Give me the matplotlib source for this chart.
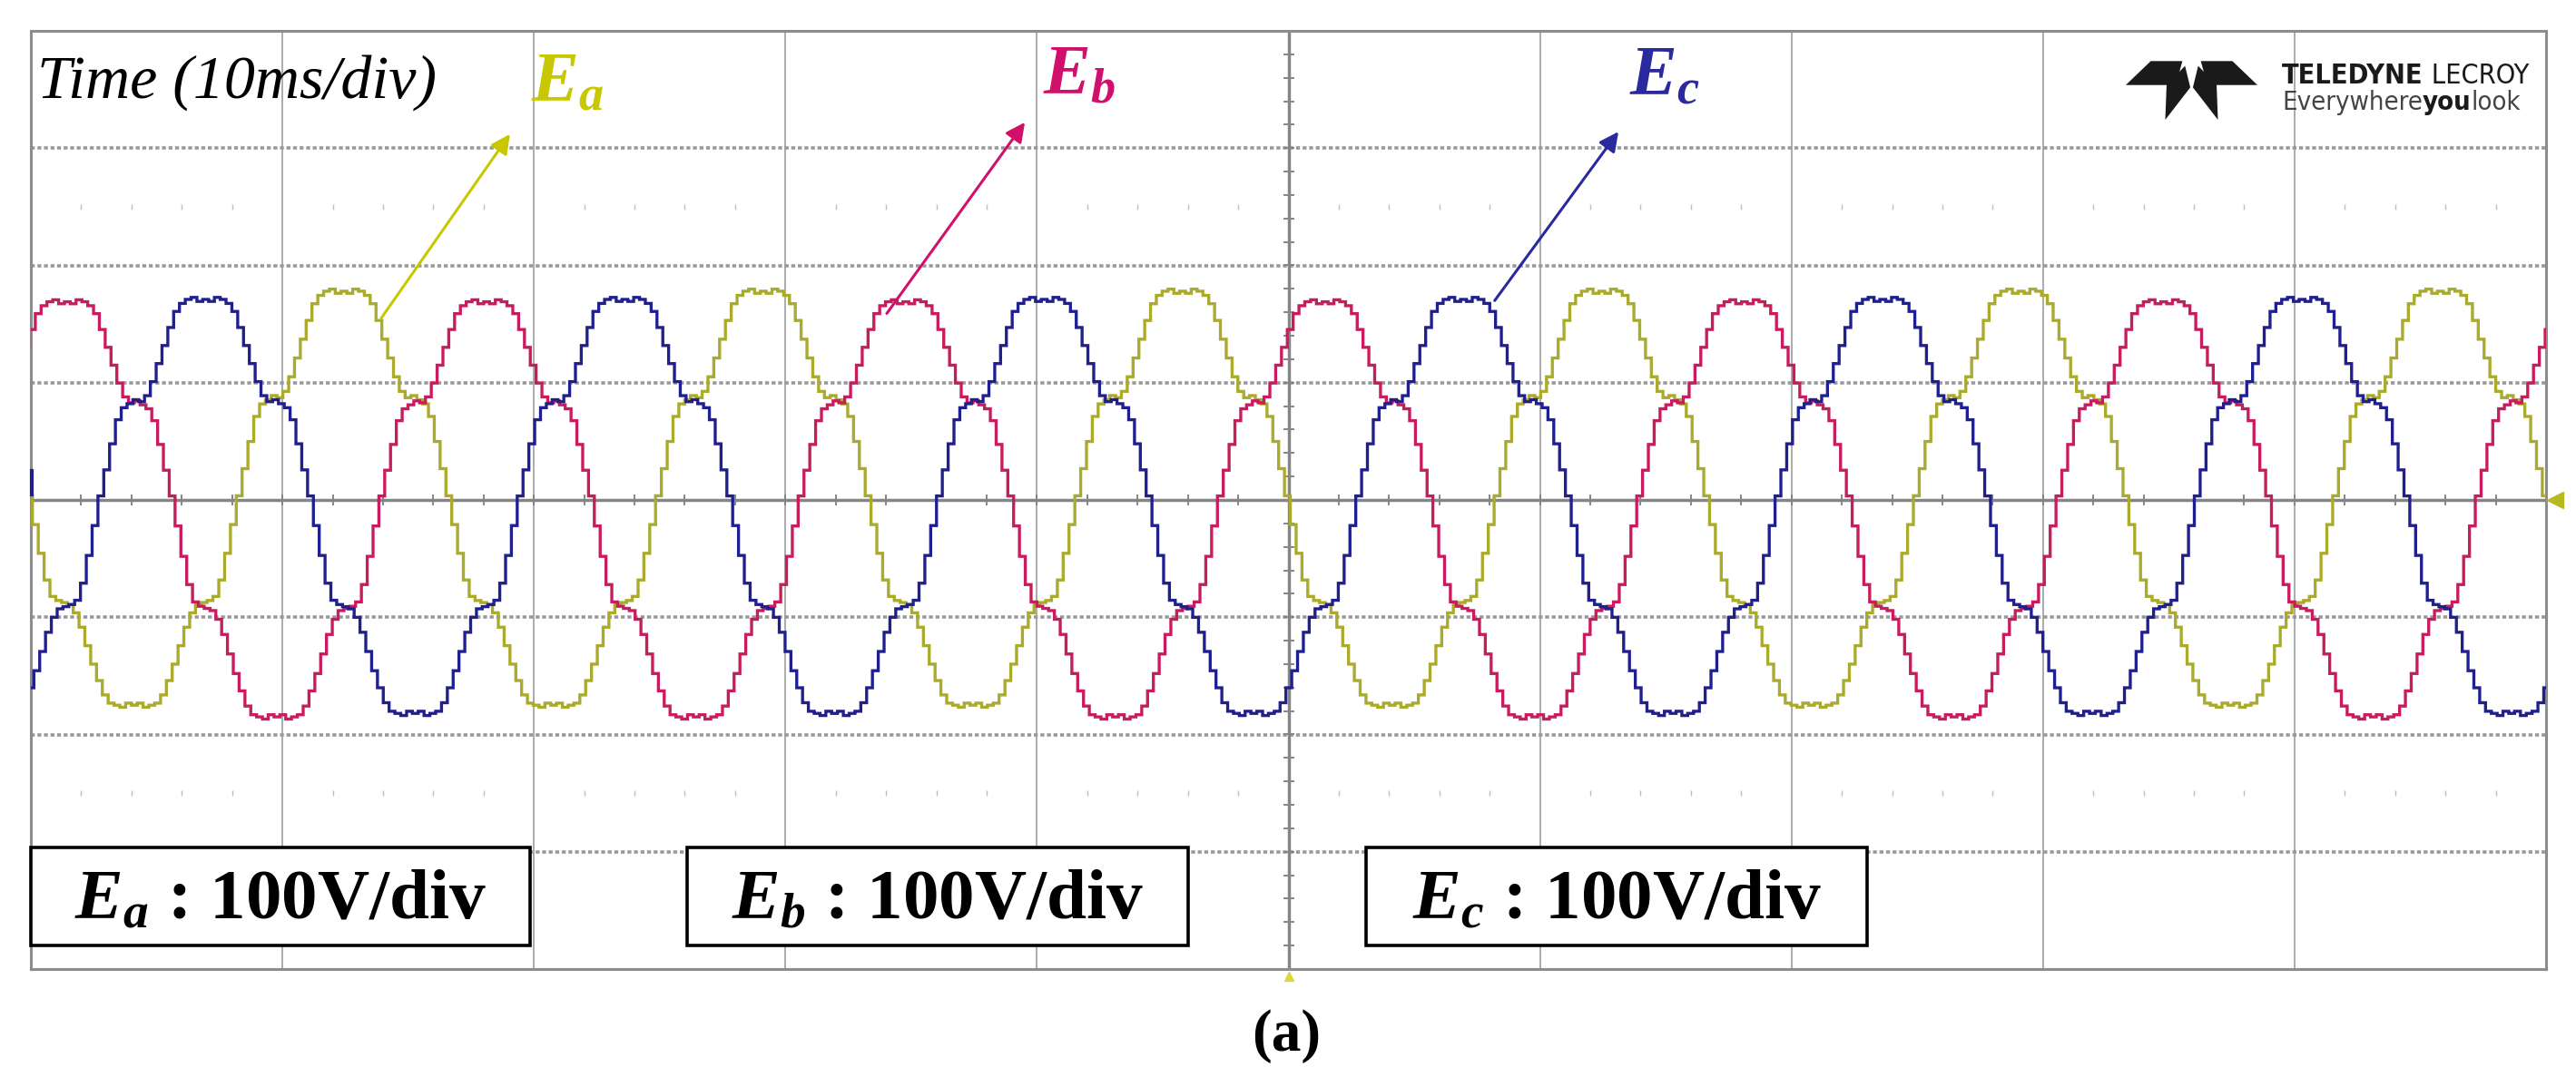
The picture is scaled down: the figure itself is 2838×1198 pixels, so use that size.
"""Three-phase staircase output voltages (Ea, Eb, Ec) as seen on the scope."""

import matplotlib
matplotlib.use("Agg")
import matplotlib.pyplot as plt
import numpy as np
from matplotlib.patches import Polygon, Rectangle

plt.rcParams["mathtext.fontset"] = "custom"
plt.rcParams["mathtext.it"] = "Liberation Serif:italic:bold"
plt.rcParams["mathtext.rm"] = "Liberation Serif:bold"
plt.rcParams["mathtext.bf"] = "Liberation Serif:bold"

# --- data (time in ms, voltage in divisions) -----------------------------
PERIOD_MS = 16.67
STEP_DEG = 5
# one period of the staircase, normalised, starting at the positive peak
SHAPE = [
    1.00, 0.99, 1.01, 1.00, 0.98, 0.94, 0.86, 0.77, 0.68, 0.59, 0.52, 0.49,
    0.50, 0.48, 0.46, 0.40, 0.28, 0.15, 0.02, -0.12, -0.26, -0.39, -0.47, -0.49,
    -0.50, -0.51, -0.55, -0.62, -0.71, -0.80, -0.88, -0.95, -0.99, -1.00, -1.01, -0.99,
    -1.00, -0.99, -1.01, -1.00, -0.99, -0.95, -0.88, -0.80, -0.71, -0.62, -0.55, -0.51,
    -0.50, -0.49, -0.47, -0.39, -0.26, -0.12, 0.02, 0.15, 0.28, 0.40, 0.46, 0.48,
    0.50, 0.49, 0.52, 0.59, 0.68, 0.77, 0.86, 0.94, 0.98, 1.00, 1.01, 0.99,
]
PHASES = ["Ea", "Eb", "Ec"]
PEAK_TIME_MS = [12.45, 1.45, 6.95]
POS_PEAK_DIV = [1.78, 1.69, 1.71]
NEG_PEAK_DIV = [1.75, 1.85, 1.82]
TRACE_COLORS = ["#aaaa2c", "#c81c5e", "#1f1f8f"]
LABEL_COLORS = ["#c8c800", "#d0106a", "#2a2a9e"]
SCALE_TEXT = ["100V/div", "100V/div", "100V/div"]

W, H = 2838, 1198
LEFT, RIGHT, TOP, BOTTOM = 34, 2805, 34, 1068


def fx(px):
    return px / W


def fy(py):
    return 1 - py / H


fig = plt.figure(figsize=(W / 100, H / 100), dpi=100)
ax = fig.add_axes([fx(LEFT), fy(BOTTOM), fx(RIGHT - LEFT), (BOTTOM - TOP) / H])
ax.set_xlim(0, 100)
ax.set_ylim(-4, 4)
ax.set_xticks([])
ax.set_yticks([])
for sp in ax.spines.values():
    sp.set_color("#8c8c8c")
    sp.set_linewidth(2.2)

# graticule
for x in range(10, 100, 10):
    if x != 50:
        ax.axvline(x, color="#949494", lw=1.1, zorder=1)
for y in (-3, -2, -1, 1, 2, 3):
    ax.axhline(y, color="#999999", lw=2.6, ls=(0, (1.2, 0.8)), zorder=1)
ax.axhline(0, color="#858585", lw=2.5, zorder=1)
ax.axvline(50, color="#858585", lw=2.5, zorder=1)
minor_x = np.arange(2, 100, 2)
minor_y = np.arange(-3.8, 4, 0.2)
ax.plot(minor_x, np.zeros_like(minor_x), ls="none", marker="|", ms=9, mew=1.4,
        color="#858585", zorder=1)
ax.plot(np.full_like(minor_y, 50), minor_y, ls="none", marker="_", ms=9, mew=1.4,
        color="#858585", zorder=1)
for y in (2.5, -2.5):
    ax.plot(minor_x[minor_x % 10 != 0], np.full(np.sum(minor_x % 10 != 0), y),
            ls="none", marker="|", ms=5, mew=1.0, color="#c0c0c0", zorder=1)

# traces
shape = np.array(SHAPE)
n_cyc = 9
for name, tp, pos, neg, col in zip(PHASES, PEAK_TIME_MS, POS_PEAK_DIV,
                                   NEG_PEAK_DIV, TRACE_COLORS):
    levels = np.where(shape > 0, shape * pos, shape * neg)
    t = tp - 2 * PERIOD_MS + np.arange(len(shape) * n_cyc) * PERIOD_MS * STEP_DEG / 360
    ax.plot(t, np.tile(levels, n_cyc), drawstyle="steps-mid", color=col, lw=2.4,
            zorder=3, solid_joinstyle="miter")

# scope markers
ax.plot([0.05, 0.05], [0.05, 0.25], color="#1f1f8f", lw=3, clip_on=False, zorder=4)
ax.plot([100.35], [0], marker="<", ms=13, color="#b8b820", clip_on=False, zorder=4)
ax.plot([50], [-4.06], marker="^", ms=7, color="#d8d840", clip_on=False, zorder=4)

# labels and arrows
ax.text(0.25, 3.43, "Time (10ms/div)", fontsize=49, fontstyle="italic",
        family="Liberation Serif", va="baseline", ha="left", zorder=5)
label_pos = [(19.9, 3.40), (40.24, 3.46), (63.55, 3.45)]
arrow_tail = [(13.93, 1.55), (34.03, 1.59), (58.2, 1.70)]
arrow_head = [(19.05, 3.12), (39.52, 3.22), (63.12, 3.14)]
for i, name in enumerate(PHASES):
    sub = name[1]
    ax.text(*label_pos[i], f"$E_{sub}$", fontsize=56, color=LABEL_COLORS[i],
            va="baseline", ha="left", zorder=5)
    ax.annotate("", xy=arrow_head[i], xytext=arrow_tail[i],
                arrowprops=dict(arrowstyle="-|>", color=LABEL_COLORS[i], lw=2.2,
                                mutation_scale=32, shrinkA=0, shrinkB=0),
                zorder=5)

# scale boxes
box_x = [(0.0, 19.85), (26.1, 46.0), (53.1, 73.0)]
for i, name in enumerate(PHASES):
    x0, x1 = box_x[i]
    ax.add_patch(Rectangle((x0, -3.80), x1 - x0, 0.84, facecolor="white",
                           edgecolor="black", lw=2.6, zorder=6, clip_on=False))
    ax.text((x0 + x1) / 2, -3.57, f"$E_{name[1]}$ : {SCALE_TEXT[i]}", fontsize=57,
            family="Liberation Serif", weight="bold", ha="center", va="baseline",
            zorder=7)

fig.text(fx(1417), fy(1142), "(a)", fontsize=47, family="Liberation Serif",
         weight="bold", ha="center", va="center")

# logo in the top-right corner
lx0, lx1, ly0, ly1 = 2342, 2487, 66, 132
logo_shapes = [
    [(0.00, 0.42), (0.19, 0.02), (0.43, 0.02), (0.38, 0.42)],
    [(0.57, 0.02), (0.81, 0.02), (1.00, 0.42), (0.62, 0.42)],
    [(0.31, 0.42), (0.45, 0.10), (0.49, 0.46), (0.30, 1.00)],
    [(0.69, 0.42), (0.55, 0.10), (0.51, 0.46), (0.70, 1.00)],
]
for poly in logo_shapes:
    pts = [(fx(lx0 + u * (lx1 - lx0)), fy(ly0 + v * (ly1 - ly0))) for u, v in poly]
    fig.patches.append(Polygon(pts, closed=True, facecolor="#1a1a1a",
                               edgecolor="none", transform=fig.transFigure))

renderer = fig.canvas.get_renderer()


def run_text(x_px, y_px, pieces, size):
    x = x_px
    for s, weight, col in pieces:
        t = fig.text(fx(x), fy(y_px), s, fontsize=size, weight=weight, color=col,
                     family="DejaVu Sans", fontstretch="condensed", va="baseline")
        x += t.get_window_extent(renderer).width


run_text(2514, 92, [("TELEDYNE", "bold", "#1a1a1a"), (" LECROY", "normal", "#1a1a1a")], 22)
run_text(2514, 121, [("Everywhere", "normal", "#444444"), ("you", "bold", "#1a1a1a"),
                     ("look", "normal", "#444444")], 21)

fig.savefig("out.png", dpi=100, facecolor="white")
